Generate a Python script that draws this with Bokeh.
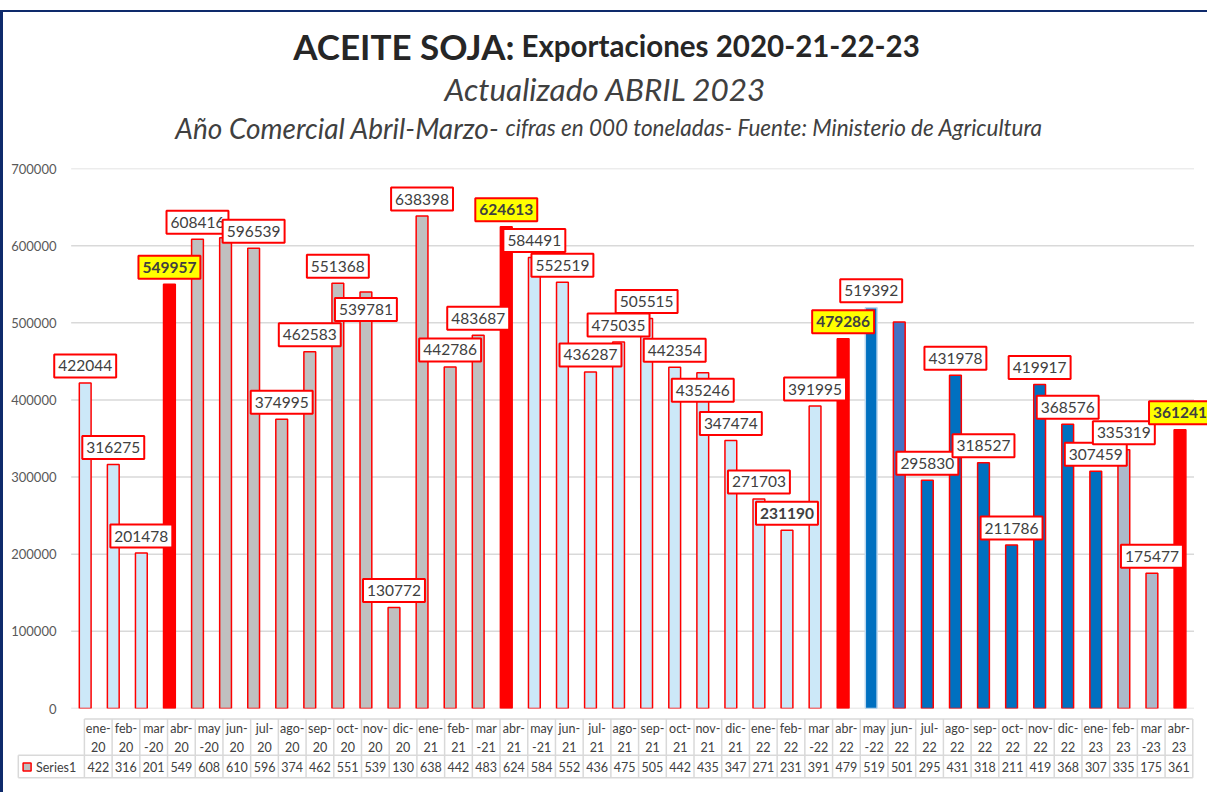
from bokeh.plotting import figure
from bokeh.models import Range1d, FixedTicker, ColumnDataSource, NumeralTickFormatter, Div
from bokeh.layouts import column
from bokeh.embed import file_html
from bokeh.resources import INLINE
from bokeh.core.properties import value

# ---------------- data ----------------
categories = ["ene-20", "feb-20", "mar-20", "abr-20", "may-20", "jun-20", "jul-20", "ago-20",
              "sep-20", "oct-20", "nov-20", "dic-20",
              "ene-21", "feb-21", "mar-21", "abr-21", "may-21", "jun-21", "jul-21", "ago-21",
              "sep-21", "oct-21", "nov-21", "dic-21",
              "ene-22", "feb-22", "mar-22", "abr-22", "may-22", "jun-22", "jul-22", "ago-22",
              "sep-22", "oct-22", "nov-22", "dic-22",
              "ene-23", "feb-23", "mar-23", "abr-23"]
values = [422044, 316275, 201478, 549957, 608416, 610150, 596539, 374995,
          462583, 551368, 539781, 130772,
          638398, 442786, 483687, 624613, 584491, 552519, 436287, 475035,
          505515, 442354, 435246, 347474,
          271703, 231190, 391995, 479286, 519392, 501100, 295830, 431978,
          318527, 211786, 419917, 368576,
          307459, 335319, 175477, 361241]
series_name = "Series1"
y_ticks = [0, 100000, 200000, 300000, 400000, 500000, 600000, 700000]

# ---------------- styling (derived, not data) ----------------
RED = "#FF0000"
LIGHT = "#CCE8F8"
GRAY = "#C0C0C0"
BLUE = "#0070C0"
MIDBLUE = "#4472C4"
SLATE = "#ADB9CA"
NAVY = "#0E2A6B"
FONT = "Lato"
TXT = "#404040"
GRID = "#D9D9D9"

def bar_style(cat):
    mon, yy = cat.split("-")
    if mon == "abr":
        return RED, RED
    if yy == "20" and mon in ("ene", "feb", "mar"):
        return LIGHT, RED
    if (yy == "20") or (yy == "21" and mon in ("ene", "feb", "mar")):
        return GRAY, RED
    if yy == "21" or (yy == "22" and mon in ("ene", "feb", "mar")):
        return LIGHT, RED
    if yy == "22" and mon == "may":
        return BLUE, "#BDD7EE"
    if yy == "22" and mon == "jun":
        return MIDBLUE, RED
    if yy == "22" or (yy == "23" and mon == "ene"):
        return BLUE, RED
    return SLATE, RED

n = len(categories)
xs = list(range(n))
fills, lines = zip(*[bar_style(c) for c in categories])

hidden_labels = {5, 29}
below_labels = {10, 22}
bold_plain = {25}

W = 1204   # canvas width (plus 3px left border = 1207)
LB = 12    # common left border -> frames start at content x = 15

# ---------------- title block ----------------
tt = figure(width=W, height=138, x_range=Range1d(15, 1207), y_range=Range1d(150, 12),
            output_backend="svg", toolbar_location=None, x_axis_location=None, y_axis_location=None,
            min_border_left=LB, min_border_right=0, min_border_top=0, min_border_bottom=0)
tt.outline_line_color = None
tt.xgrid.visible = False
tt.ygrid.visible = False

def title_text(txt, x, y, size, style, align, color):
    tt.text(x=[x], y=[y], text=[txt], text_font=value(FONT), text_font_size=size,
            text_font_style=style, text_align=align, text_baseline="alphabetic", text_color=color)

title_text("ACEITE SOJA:", 514, 45, "35px", "bold", "right", "#262626")
title_text("Exportaciones 2020-21-22-23", 521, 45, "29.5px", "bold", "left", "#262626")
title_text("Actualizado ABRIL  2023", 609, 88, "31.5px", "italic", "center", TXT)
title_text("Año Comercial Abril-Marzo-", 499, 127, "28px", "italic", "right", TXT)
title_text("cifras en 000 toneladas-  Fuente: Ministerio de Agricultura", 505, 127, "22.5px",
           "italic", "left", TXT)

# ---------------- main chart ----------------
p = figure(width=W, height=566, x_range=Range1d(-2.483, 39.98), y_range=Range1d(0, 700000),
           output_backend="svg", toolbar_location=None, x_axis_location=None,
           min_border_left=LB, min_border_right=0, min_border_top=18, min_border_bottom=8)
p.outline_line_color = None
p.xgrid.visible = False
p.ygrid.visible = False
p.yaxis.ticker = FixedTicker(ticks=y_ticks)
p.yaxis.formatter = NumeralTickFormatter(format="0")
p.yaxis.axis_line_color = None
p.yaxis.major_tick_line_color = None
p.yaxis.minor_tick_line_color = None
p.yaxis.major_tick_out = 0
p.yaxis.major_tick_in = 0
p.yaxis.major_label_standoff = -41
p.yaxis.major_label_text_font = FONT
p.yaxis.major_label_text_font_size = "13px"
p.yaxis.major_label_text_color = "#595959"

# horizontal gridlines spanning the category area
p.segment(x0=[-0.5] * len(y_ticks), y0=y_ticks, x1=[n - 0.5] * len(y_ticks), y1=y_ticks,
          line_color=GRID, line_width=1.5)

src = ColumnDataSource(dict(x=xs, v=values, fill=list(fills), line=list(lines)))
p.vbar(x="x", top="v", width=0.42, fill_color="fill", line_color="line", line_width=1.5, source=src)

def label_source(pred):
    d = dict(x=[], v=[], t=[], yoff=[])
    for i, (c, v) in enumerate(zip(categories, values)):
        if i in hidden_labels or not pred(i, c):
            continue
        d["x"].append(i)
        d["v"].append(v)
        d["t"].append(str(v))
        d["yoff"].append(17.5 if i in below_labels else -17)
    return ColumnDataSource(d)

is_abr = lambda i, c: c.startswith("abr")
groups = [
    (label_source(lambda i, c: not is_abr(i, c) and i not in bold_plain), "normal", "white"),
    (label_source(lambda i, c: i in bold_plain), "bold", "white"),
    (label_source(is_abr), "bold", "#FFFF00"),
]
for s, style, bg in groups:
    p.text(x="x", y="v", text="t", y_offset="yoff", source=s, text_align="center",
           text_baseline="middle", text_font=value(FONT), text_font_size="15.5px",
           text_font_style=style, text_color=TXT, background_fill_color=bg,
           border_line_color=RED, border_line_width=2,
           padding=dict(left=4, right=4, top=6, bottom=6))

# ---------------- data table ----------------
t = figure(width=W, height=76, x_range=Range1d(-2.9865, 40.031), y_range=Range1d(0, 76),
           output_backend="svg", toolbar_location=None, x_axis_location=None, y_axis_location=None,
           min_border_left=LB, min_border_right=0, min_border_top=0, min_border_bottom=0)
t.outline_line_color = None
t.xgrid.visible = False
t.ygrid.visible = False

legend_left = -2.885
ROW_TOP, ROW_MID, ROW_BOT = 73.5, 37.3, 14.7
t.segment(x0=[-0.5, legend_left, legend_left], y0=[ROW_TOP, ROW_MID, ROW_BOT],
          x1=[n - 0.5] * 3, y1=[ROW_TOP, ROW_MID, ROW_BOT], line_color=GRID, line_width=1.5)
vx = [j - 0.5 for j in range(n + 1)]
t.segment(x0=vx, y0=[ROW_TOP] * len(vx), x1=vx, y1=[ROW_BOT] * len(vx), line_color=GRID, line_width=1.5)
t.segment(x0=[legend_left], y0=[ROW_MID], x1=[legend_left], y1=[ROW_BOT], line_color=GRID, line_width=1.5)

line1, line2 = [], []
for c in categories:
    mon, yy = c.split("-")
    if mon in ("mar", "may"):
        line1.append(mon); line2.append("-" + yy)
    else:
        line1.append(mon + "-"); line2.append(yy)

tsrc = ColumnDataSource(dict(x=xs, l1=line1, l2=line2, val=[str(v // 1000) for v in values],
                             y1=[63.7] * n, y2=[45.1] * n, y3=[25.5] * n))
common = dict(text_align="center", text_baseline="middle", text_font=value(FONT),
              text_font_size="12.5px", text_color=TXT, source=tsrc)
t.text(x="x", y="y1", text="l1", **common)
t.text(x="x", y="y2", text="l2", **common)
t.text(x="x", y="y3", text="val", **common)

t.scatter(x=[-2.568], y=[25.5], marker="square", size=8, fill_color="#BFBFBF", line_color=RED, line_width=1.5)
t.text(x=[-2.247], y=[25.5], text=[series_name], text_align="left", text_baseline="middle",
       text_font=value(FONT), text_font_size="12.5px", text_color=TXT)

top_gap = Div(width=W + 3, height=10, margin=0, styles={"background-color": "white"})
top_line = Div(width=W, height=2, margin=0, styles={"background-color": NAVY})
inner = column(top_line, tt, p, t, spacing=0, margin=0, styles={"border-left": "3px solid " + NAVY})
layout = column(top_gap, inner, spacing=0, margin=0)

open("out.html", "w").write(file_html(layout, INLINE))
